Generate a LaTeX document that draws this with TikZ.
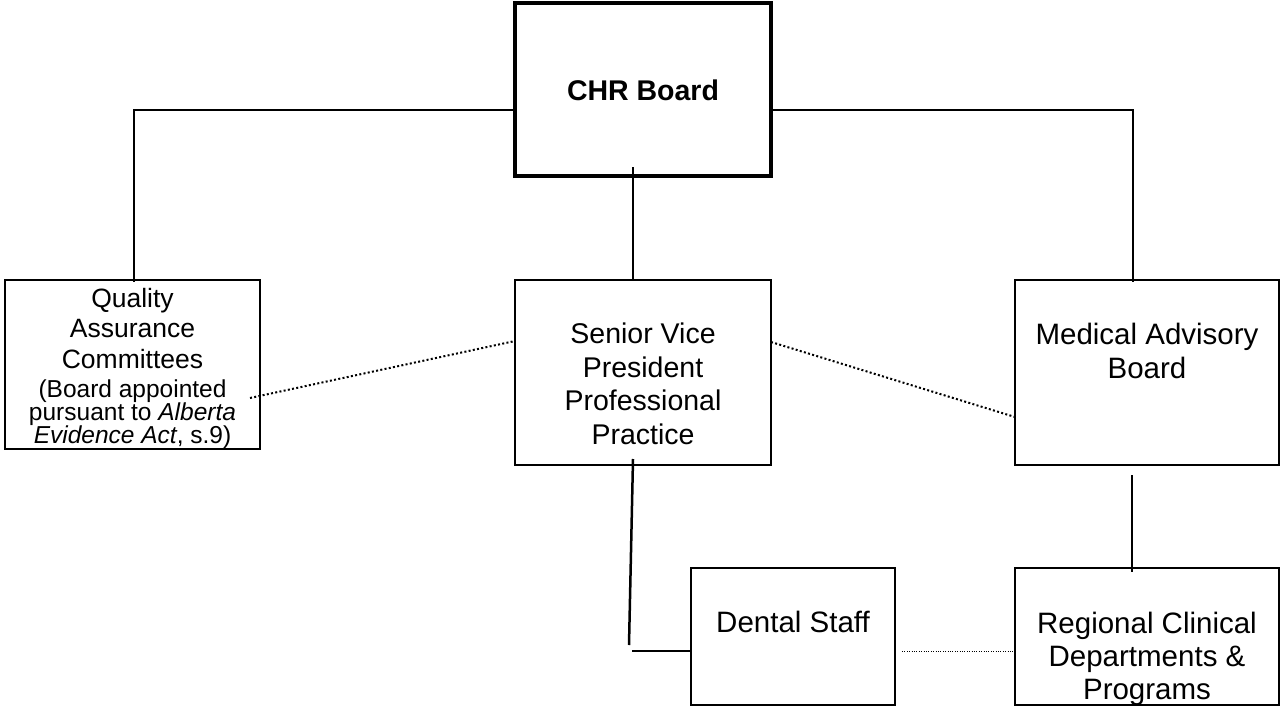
\documentclass[tikz,border=0pt]{standalone}
\usepackage{fontspec}
\setmainfont{Liberation Sans}
\begin{document}
\begin{tikzpicture}[x=1pt,y=-1pt,
  box/.style={draw,line width=2pt,inner sep=0pt,outer sep=0pt},
  bigtxt/.style={inner sep=0pt,align=center,font=\fontsize{29.5}{33.5}\selectfont},
  smalltxt/.style={inner sep=0pt,align=center,font=\fontsize{24.5}{23}\selectfont},
  conn/.style={line width=1.8pt},
  dotline/.style={line width=2pt,dash pattern=on 2pt off 2.3pt},
  thindot/.style={line width=1pt,dash pattern=on 1pt off 1.4pt}]
\useasboundingbox (0,0) rectangle (1281,706);
\fill[white] (0,0) rectangle (1281,706);

% boxes
\node[box,line width=4pt,minimum width=256pt,minimum height=173pt] (chr) at (643,89.5) {};
\node[box,minimum width=255pt,minimum height=169pt] (qa) at (132.5,364.5) {};
\node[box,minimum width=256pt,minimum height=185pt] (svp) at (643,372.5) {};
\node[box,minimum width=264pt,minimum height=185pt] (mab) at (1147,372.5) {};
\node[box,minimum width=204pt,minimum height=137pt] (dental) at (793,636.5) {};
\node[box,minimum width=264pt,minimum height=137pt] (reg) at (1147,636.5) {};

% texts
\node[bigtxt,font=\fontsize{28.5}{33.5}\selectfont\bfseries] (tchr) at (643,90) {CHR Board};
\node[bigtxt,anchor=north,font=\fontsize{26.5}{30.5}\selectfont] (tqa) at (132.5,288) {Quality\\Assurance\\Committees};
\node[smalltxt,anchor=north] (tqa2) at (132.5,380) {(Board appointed\\pursuant to \textit{Alberta}\\\textit{Evidence Act}, s.9)};
\node[bigtxt,anchor=north,font=\fontsize{28.5}{33.5}\selectfont] (tsvp) at (643,323) {Senior Vice\\President\\Professional\\Practice};
\node[bigtxt,anchor=north] (tmab) at (1147,323) {Medical Advisory\\Board};
\node[bigtxt] (tdental) at (793,622) {Dental Staff};
\node[bigtxt,anchor=north,font=\fontsize{29.5}{33}\selectfont] (treg) at (1147,612) {Regional Clinical\\Departments \&\\Programs};

% solid connectors
\coordinate (jl) at (134,110);
\coordinate (jr) at (1133,110);
\draw[conn] (chr.west |- jl) -- (jl) -- ([yshift=-2pt]jl |- qa.north);
\draw[conn] (chr.east |- jr) -- (jr) -- ([yshift=-2pt]jr |- mab.north);
\coordinate (jc) at (633,167);
\draw[conn] (jc) -- (jc |- svp.north);
\coordinate (sd) at (629,645);
\draw[conn,line width=2.5pt] ([xshift=-10pt,yshift=6pt]svp.south) -- (sd);
\coordinate (dh) at (632,651);
\draw[conn] (dh) -- (dh -| dental.west);
\draw[conn] ([xshift=-15pt,yshift=-10pt]mab.south) -- ([xshift=-15pt,yshift=-4pt]reg.north);

% dotted connectors
\draw[dotline] ([xshift=-10pt,yshift=-33.5pt]qa.east) -- ([yshift=31.5pt]svp.west);
\draw[dotline] ([yshift=30.5pt]svp.east) -- ([yshift=-44.5pt]mab.west);
\draw[thindot] ([xshift=7pt,yshift=-14.5pt]dental.east) -- ([yshift=-14.5pt]reg.west);
\end{tikzpicture}
\end{document}
